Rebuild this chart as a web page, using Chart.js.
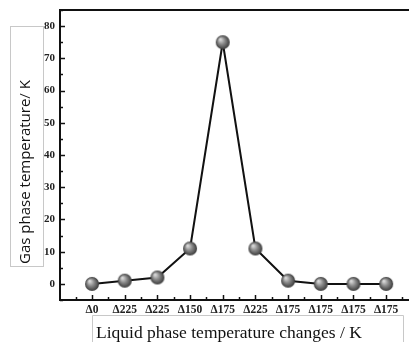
<!DOCTYPE html>
<html>
<head>
<meta charset="utf-8">
<script src="https://cdn.jsdelivr.net/npm/chart.js@4.4.0/dist/chart.umd.min.js"></script>
<style>
  html, body { margin: 0; padding: 0; background: #fff; }
  #wrap { width: 409px; height: 342px; position: relative; }
</style>
</head>
<body>
<div id="wrap"><canvas id="c" width="409" height="342"></canvas></div>
<script>
// données
const categories = ["Δ0", "Δ225", "Δ225", "Δ150", "Δ175", "Δ225", "Δ175", "Δ175", "Δ175", "Δ175"];
const gasTemp = [0, 1, 2, 11, 75, 11, 1, 0, 0, 0];
const yTicks = [0, 10, 20, 30, 40, 50, 60, 70, 80];
const xTitle = "Liquid phase temperature changes / K";
const yTitle = "Gas phase temperature/ K";

// ----------------------------------------------------
// marqueur sphère grise
// ----------------------------------------------------
function sphere(r) {
  const cv = document.createElement("canvas");
  cv.width = cv.height = r * 2 + 2;
  const g = cv.getContext("2d");
  const c = r + 1;
  const grad = g.createRadialGradient(c - r * 0.35, c - r * 0.4, r * 0.1, c, c, r);
  grad.addColorStop(0, "#d8d8d8");
  grad.addColorStop(0.45, "#8a8a8a");
  grad.addColorStop(1, "#3a3a3a");
  g.fillStyle = grad;
  g.beginPath();
  g.arc(c, c, r, 0, Math.PI * 2);
  g.fill();
  return cv;
}

// ----------------------------------------------------
// cadre, ticks internes, titres encadrés
// ----------------------------------------------------
const decor = {
  id: "decor",
  afterDraw(chart) {
    const ctx = chart.ctx;
    const a = chart.chartArea;
    const xs = chart.scales.x, ys = chart.scales.y;
    ctx.save();
    ctx.strokeStyle = "#111";
    ctx.lineWidth = 2;
    // ligne du haut
    ctx.beginPath();
    ctx.moveTo(a.left, a.top);
    ctx.lineTo(a.right, a.top);
    ctx.stroke();

    ctx.lineWidth = 1.5;
    // ticks y
    for (let v = -5; v <= 85; v += 5) {
      const y = Math.round(ys.getPixelForValue(v)) + 0.5;
      const len = v % 10 === 0 ? 5 : 3;
      ctx.beginPath();
      ctx.moveTo(a.left, y);
      ctx.lineTo(a.left + len, y);
      ctx.stroke();
    }
    // ticks x
    for (let v = -0.5; v <= 9.5; v += 0.5) {
      const x = Math.round(xs.getPixelForValue(v)) + 0.5;
      const len = Number.isInteger(v) ? 5 : 3;
      ctx.beginPath();
      ctx.moveTo(x, a.bottom);
      ctx.lineTo(x, a.bottom - len);
      ctx.stroke();
    }

    // boîtes des titres
    ctx.strokeStyle = "#c8c8c8";
    ctx.lineWidth = 1;
    ctx.strokeRect(10.5, 26.5, 33, 240);
    ctx.beginPath();
    ctx.moveTo(92.5, 343);
    ctx.lineTo(92.5, 315.5);
    ctx.lineTo(403.5, 315.5);
    ctx.lineTo(403.5, 343);
    ctx.stroke();

    ctx.fillStyle = "#111";
    ctx.font = "17.5px 'Liberation Serif'";
    ctx.textBaseline = "alphabetic";
    ctx.textAlign = "left";
    ctx.fillText(xTitle, 96, 338);

    ctx.translate(30, 172);
    ctx.rotate(-Math.PI / 2);
    ctx.font = "15px 'Open Sans'";
    ctx.textAlign = "center";
    ctx.fillText(yTitle, 0, 0);
    ctx.restore();
  }
};

new Chart(document.getElementById("c"), {
  type: "line",
  data: {
    datasets: [{
      data: gasTemp.map((v, i) => ({ x: i, y: v })),
      borderColor: "#111",
      borderWidth: 2,
      pointStyle: sphere(7),
      pointRadius: 7,
      tension: 0
    }]
  },
  options: {
    responsive: false,
    animation: false,
    layout: { autoPadding: false, padding: { top: 10, right: 0, left: 0, bottom: 0 } },
    plugins: { legend: { display: false }, tooltip: { enabled: false } },
    scales: {
      x: {
        type: "linear",
        min: -0.98,
        max: 9.7,
        afterBuildTicks: s => { s.ticks = categories.map((c, i) => ({ value: i })); },
        afterFit: s => { s.height = 42; s.paddingLeft = 0; s.paddingRight = 0; },
        grid: { display: false, drawTicks: false },
        border: { display: true, color: "#111", width: 2 },
        ticks: {
          padding: 3,
          autoSkip: false,
          maxRotation: 0,
          color: "#222",
          font: { family: "'Liberation Serif'", size: 11.5, weight: "bold" },
          callback: v => categories[v] ?? ""
        }
      },
      y: {
        min: -5,
        max: 85,
        afterBuildTicks: s => { s.ticks = yTicks.map(v => ({ value: v })); },
        afterFit: s => { s.width = 60; s.paddingTop = 0; s.paddingBottom = 0; },
        grid: { display: false, drawTicks: false },
        border: { display: true, color: "#111", width: 2 },
        ticks: {
          padding: 5,
          color: "#222",
          font: { family: "'Liberation Serif'", size: 11, weight: "bold" }
        }
      }
    }
  },
  plugins: [decor]
});
</script>
</body>
</html>
